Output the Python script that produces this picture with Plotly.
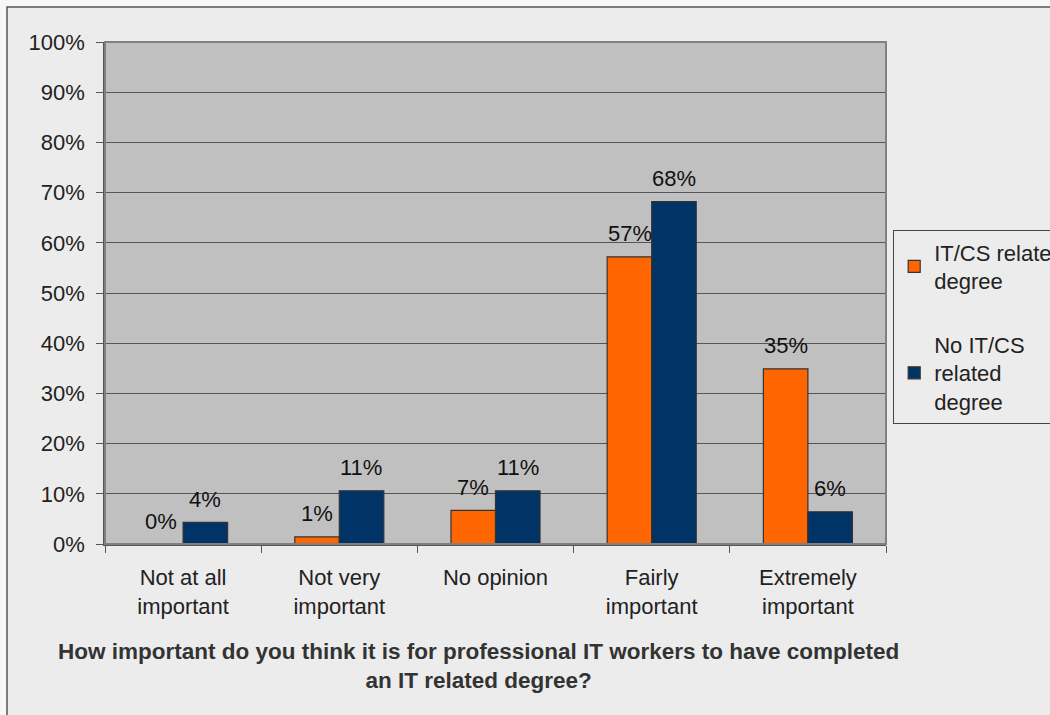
import plotly.graph_objects as go

categories = ["Not at all<br>important", "Not very<br>important", "No opinion",
              "Fairly<br>important", "Extremely<br>important"]
series_names = ["IT/CS related<br>degree", "No IT/CS<br>related<br>degree"]
it_degree = [0.0, 1.4, 6.7, 57.2, 34.9]
no_it_degree = [4.3, 10.6, 10.6, 68.2, 6.4]
y_ticks = list(range(0, 101, 10))
title_text = ("<b>How important do you think it is for professional IT workers to have completed"
              "<br>an IT related degree?</b>")

FONT = "Liberation Sans, Arial, sans-serif"
TEXT = "#222222"

# plot-area geometry in pixels
L, R, T, B = 105, 886, 42, 544
PW, PH = R - L, B - T

fig = go.Figure()
for name, vals, color, grp in [(series_names[0], it_degree, "#FF6600", "a"),
                               (series_names[1], no_it_degree, "#003366", "b")]:
    fig.add_trace(go.Bar(
        x=categories, y=vals, name=name, legendgroup=grp,
        marker=dict(color=color, line=dict(color="#333333", width=1.2)),
    ))

# value labels sit a little above each bar top
for i, (a, b) in enumerate(zip(it_degree, no_it_degree)):
    for v, off in [(a, -0.142), (b, 0.142)]:
        fig.add_annotation(x=i + off, y=v, text=f"{v:.0f}%", showarrow=False,
                           yanchor="middle", yshift=23, xref="x", yref="y",
                           font=dict(family=FONT, size=22, color="#111111"))

# outer chart frame
fig.add_shape(type="rect", xref="paper", yref="paper",
              x0=(7 - L) / PW, x1=1.4, y0=-0.6, y1=(B - 7) / PH,
              line=dict(color="#555555", width=1.5), fillcolor="#ececec", layer="below")
# plot-area fill
fig.add_shape(type="rect", xref="paper", yref="paper", x0=0, x1=1, y0=0, y1=1,
              line=dict(width=0), fillcolor="#c0c0c0", layer="below")

fig.add_annotation(text=title_text, xref="paper", yref="paper",
                   x=(478 - L) / PW, y=(B - 666) / PH, showarrow=False,
                   xanchor="center", yanchor="middle", align="center",
                   font=dict(family=FONT, size=22.5, color="#333333"))

fig.update_layout(
    width=1050, height=715,
    margin=dict(l=L, r=1050 - R, t=T, b=715 - B, autoexpand=False),
    paper_bgcolor="#f7f7f7", plot_bgcolor="#c0c0c0",
    barmode="group", bargap=0.43, bargroupgap=0,
    font=dict(family=FONT, size=22, color=TEXT),
    showlegend=True,
    legend=dict(x=(893 - L) / PW, y=(B - 230) / PH, xanchor="left", yanchor="top",
                bgcolor="#ececec", bordercolor="#444444", borderwidth=1.2,
                font=dict(family=FONT, size=22, color=TEXT),
                valign="middle", tracegroupgap=32, itemwidth=30),
)
fig.update_xaxes(
    showgrid=False, showline=True, linecolor="#555555", linewidth=1.5,
    ticks="outside", ticklen=7, tickcolor="#555555", tickson="boundaries",
    tickfont=dict(family=FONT, size=22, color=TEXT), ticklabelstandoff=13,
)
fig.update_yaxes(
    range=[0, 100], tickvals=y_ticks, ticktext=[f"{t}%" for t in y_ticks],
    showgrid=True, gridcolor="#555555", gridwidth=1,
    showline=True, linecolor="#555555", linewidth=1.5,
    ticks="outside", ticklen=7, tickcolor="#555555",
    tickfont=dict(family=FONT, size=22, color=TEXT), ticklabelstandoff=7,
)
# plot-area frame on the top and right
fig.add_shape(type="rect", xref="paper", yref="paper", x0=0, x1=1, y0=0, y1=1,
              line=dict(color="#808080", width=2), layer="above")

fig.write_html("out.html")
